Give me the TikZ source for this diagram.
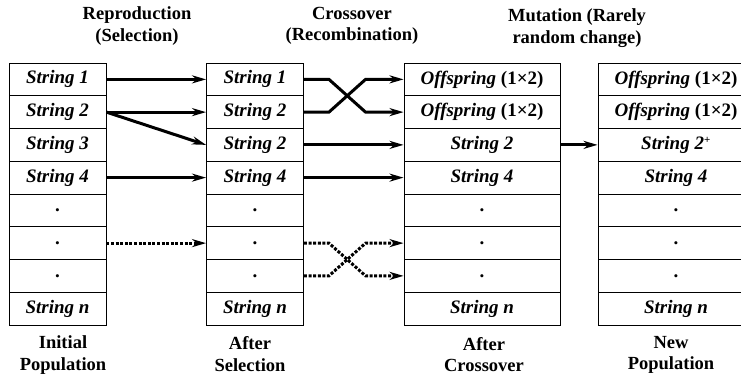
\documentclass[tikz,border=0pt]{standalone}
\usepackage{fontspec}
\setmainfont{Liberation Serif}
\usetikzlibrary{arrows.meta,calc}

\tikzset{
  cell/.style={draw, line width=0.9pt, rectangle, inner sep=0pt,
    minimum height=32.75pt, font=\fontsize{19}{21}\selectfont\bfseries\itshape},
  narrowcol/.style={cell, minimum width=97pt},
  widecol/.style={cell, minimum width=156pt},
  caption/.style={align=center, inner sep=0pt, font=\fontsize{18.5}{21.5}\selectfont\bfseries},
  flow/.style={line width=3pt, -{Stealth[length=14pt,width=8pt,inset=4.5pt]}},
  dotflow/.style={flow, dash pattern=on 3pt off 1.6pt},
}

\begin{document}
\begin{tikzpicture}[x=1pt, y=-1pt]
  \useasboundingbox (0,0) rectangle (741,375);
  \begin{scope}
  \clip (0,0) rectangle (741,375);

  % Four populations, eight strings each
  \foreach \t [count=\i] in {String 1, String 2, String 3, String 4, {\upshape .}, {\upshape .}, {\upshape .}, String n}
    \node[narrowcol] (a\i) at (57.5, {63 + 32.75*(\i-0.5)}) {\t};
  \foreach \t [count=\i] in {String 1, String 2, String 2, String 4, {\upshape .}, {\upshape .}, {\upshape .}, String n}
    \node[narrowcol] (b\i) at (255, {63 + 32.75*(\i-0.5)}) {\t};
  \foreach \t [count=\i] in {Offspring {\upshape (1×2)}, Offspring {\upshape (1×2)}, String 2, String 4, {\upshape .}, {\upshape .}, {\upshape .}, String n}
    \node[widecol] (c\i) at (482, {63 + 32.75*(\i-0.5)}) {\t};
  \foreach \t [count=\i] in {Offspring {\upshape (1×2)}, Offspring {\upshape (1×2)}, String 2\textsuperscript{\upshape\fontsize{11}{11}\selectfont +}, String 4, {\upshape .}, {\upshape .}, {\upshape .}, String n}
    \node[widecol] (d\i) at (676, {63 + 32.75*(\i-0.5)}) {\t};
  \end{scope}

  % Stage headings
  \node[caption] (h1) at (137, 26) {Reproduction\\(Selection)};
  \node[caption] (h2) at (352, 26) {Crossover\\(Recombination)};
  \node[caption] (h3) at (577, 28) {Mutation (Rarely\\random change)};

  % Population labels
  \node[caption] (l1) at (63, 355) {Initial\\Population};
  \node[caption] (l2) at (250, 354) {After\\Selection};
  \node[caption] (l3) at (484, 354.5) {After\\Crossover};
  \node[caption] (l4) at (671, 355) {New\\Population};

  % Selection
  \draw[flow] (a1.east) -- (b1.west);
  \draw[flow] (a2.east) -- (b2.west);
  \draw[flow] (a2.east) -- (b3.west);
  \draw[flow] (a4.east) -- (b4.west);
  \draw[dotflow] (a6.east) -- (b6.west);

  % Crossover
  \draw[flow] (b1.east) -- ($(b1.east)+(25,0)$) -- ($(c2.west)+(-38,0)$) -- (c2.west);
  \draw[flow] (b2.east) -- ($(b2.east)+(25,0)$) -- ($(c1.west)+(-38,0)$) -- (c1.west);
  \draw[flow] (b3.east) -- (c3.west);
  \draw[flow] (b4.east) -- (c4.west);
  \draw[dotflow] (b6.east) -- ($(b6.east)+(25,0)$) -- ($(c7.west)+(-38,0)$) -- (c7.west);
  \draw[dotflow] (b7.east) -- ($(b7.east)+(25,0)$) -- ($(c6.west)+(-38,0)$) -- (c6.west);

  % Mutation
  \draw[flow] (c3.east) -- (d3.west);
\end{tikzpicture}
\end{document}
